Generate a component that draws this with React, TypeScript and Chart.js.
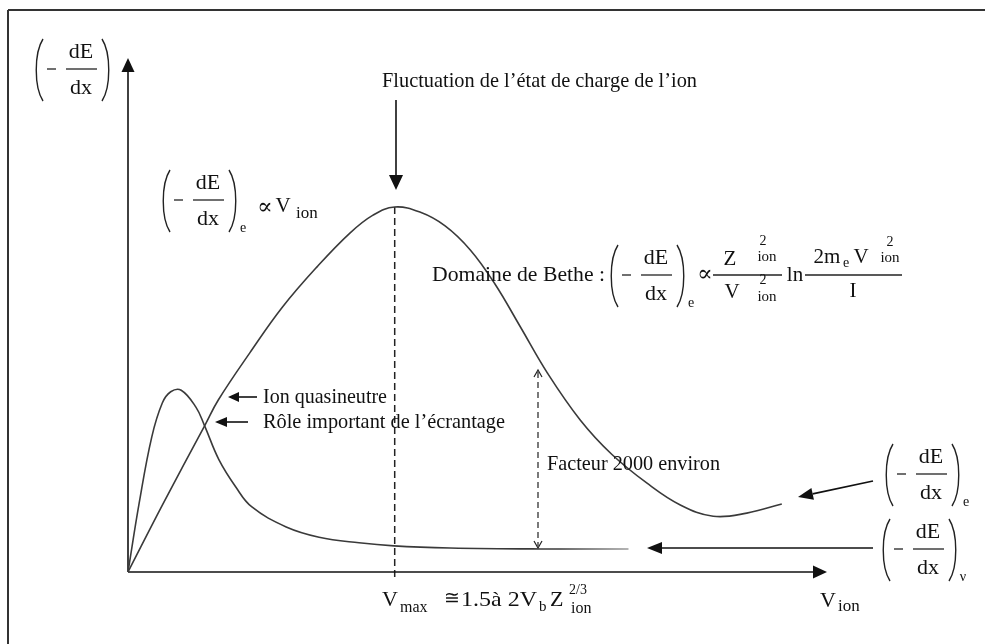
import React, { useEffect, useRef } from "react";
import { Chart, registerables } from "chart.js";

Chart.register(...registerables);

// Electronic stopping power (-dE/dx)_e versus ion velocity (arbitrary units)
const electronicV = [0, 0.5, 1.1, 1.29, 1.74, 2.21, 2.7, 3.17, 3.5, 3.81, 4.17, 4.53, 4.89, 5.24, 5.6, 5.99, 6.46, 6.91, 7.41, 7.89, 8.36, 8.84, 9.34];
const electronicLoss = [0, 13.3, 28.7, 33.6, 42.8, 51.8, 59.6, 66.2, 69.7, 71.3, 70.3, 67.6, 62.9, 56.3, 48.0, 38.9, 29.7, 23.0, 17.4, 13.1, 10.9, 11.5, 13.3];

// Nuclear stopping power (-dE/dx)_v versus ion velocity (arbitrary units)
const nuclearV = [0, 0.16, 0.34, 0.49, 0.61, 0.76, 0.97, 1.09, 1.3, 1.54, 1.77, 2.26, 2.73, 3.3, 3.8, 4.6, 5.9, 7.15];
const nuclearLoss = [0, 13.5, 26.4, 33.0, 35.2, 35.5, 32.2, 28.7, 21.9, 16.6, 12.7, 8.8, 6.8, 5.7, 5.1, 4.7, 4.5, 4.5];

const axisXMax = 10;
const axisYMax = 100;

const FONT = '"Liberation Serif", "DejaVu Serif", "Times New Roman", serif';
const INK = "#111";
const LINE = "#333";

function setFont(ctx: CanvasRenderingContext2D, size: number) {
  ctx.font = `${size}px ${FONT}`;
}

function text(ctx: CanvasRenderingContext2D, s: string, x: number, y: number, size: number, align: CanvasTextAlign = "left") {
  setFont(ctx, size);
  ctx.textAlign = align;
  ctx.textBaseline = "middle";
  ctx.fillStyle = INK;
  ctx.fillText(s, x, y);
}

function fitText(ctx: CanvasRenderingContext2D, s: string, x: number, y: number, size: number, w: number) {
  setFont(ctx, size);
  ctx.textAlign = "left";
  ctx.textBaseline = "middle";
  ctx.fillStyle = INK;
  const m = ctx.measureText(s).width;
  ctx.save();
  ctx.translate(x, y);
  ctx.scale(w / m, 1);
  ctx.fillText(s, 0, 0);
  ctx.restore();
}

function line(ctx: CanvasRenderingContext2D, x1: number, y1: number, x2: number, y2: number, w = 1.5, color = LINE) {
  ctx.beginPath();
  ctx.strokeStyle = color;
  ctx.lineWidth = w;
  ctx.moveTo(x1, y1);
  ctx.lineTo(x2, y2);
  ctx.stroke();
}

function arrow(ctx: CanvasRenderingContext2D, x1: number, y1: number, x2: number, y2: number, head = 13, half = 5.5) {
  const a = Math.atan2(y2 - y1, x2 - x1);
  const bx = x2 - head * Math.cos(a);
  const by = y2 - head * Math.sin(a);
  line(ctx, x1, y1, bx, by, 1.6, "#111");
  ctx.beginPath();
  ctx.fillStyle = "#111";
  ctx.moveTo(x2, y2);
  ctx.lineTo(bx + half * Math.sin(a), by - half * Math.cos(a));
  ctx.lineTo(bx - half * Math.sin(a), by + half * Math.cos(a));
  ctx.closePath();
  ctx.fill();
}

function openHead(ctx: CanvasRenderingContext2D, x: number, y: number, dir: number) {
  ctx.beginPath();
  ctx.strokeStyle = "#222";
  ctx.lineWidth = 1.2;
  ctx.setLineDash([]);
  ctx.moveTo(x - 4, y - dir * 7);
  ctx.lineTo(x, y);
  ctx.lineTo(x + 4, y - dir * 7);
  ctx.stroke();
}

function paren(ctx: CanvasRenderingContext2D, x: number, top: number, bot: number, left: boolean) {
  ctx.beginPath();
  ctx.strokeStyle = "#222";
  ctx.lineWidth = 1.4;
  if (left) {
    ctx.moveTo(x + 8, top);
    ctx.bezierCurveTo(x - 1, top + 14, x - 1, bot - 14, x + 8, bot);
  } else {
    ctx.moveTo(x, top);
    ctx.bezierCurveTo(x + 9, top + 14, x + 9, bot - 14, x, bot);
  }
  ctx.stroke();
}

// (-dE/dx)_sub ; L = left edge of the left parenthesis, B = fraction bar y
function frac(ctx: CanvasRenderingContext2D, L: number, B: number, sub: string) {
  paren(ctx, L, B - 30, B + 32, true);
  paren(ctx, L + 67, B - 30, B + 32, false);
  line(ctx, L + 12, B, L + 21, B, 1.3, "#222");
  line(ctx, L + 31, B, L + 62, B, 1.3, "#222");
  text(ctx, "dE", L + 46, B - 17, 22, "center");
  text(ctx, "dx", L + 46, B + 19, 22, "center");
  if (sub) text(ctx, sub, L + 81, B + 28, 14, "center");
}

const diagramPlugin = {
  id: "diagram",
  beforeDraw(chart: any) {
    const { ctx, width, height } = chart;
    ctx.save();
    ctx.fillStyle = "#fff";
    ctx.fillRect(0, 0, width, height);
    ctx.restore();
  },
  beforeDatasetsDraw(chart: any) {
    const ctx: CanvasRenderingContext2D = chart.ctx;
    const xs = chart.scales.x;
    const ys = chart.scales.y;
    const ox = xs.getPixelForValue(0);
    const oy = ys.getPixelForValue(0);
    ctx.save();
    // frame (top and left borders)
    line(ctx, 8, 10, 985, 10, 2, "#333");
    line(ctx, 8, 10, 8, 644, 2, "#333");
    // V_max dashed line
    let iMax = 0;
    electronicLoss.forEach((v, i) => { if (v > electronicLoss[iMax]) iMax = i; });
    const vx = xs.getPixelForValue(electronicV[iMax]);
    ctx.setLineDash([7, 4]);
    line(ctx, vx, ys.getPixelForValue(electronicLoss[iMax]), vx, oy + 8, 1.5, "#222");
    // Facteur 2000 dashed double arrow
    ctx.setLineDash([6, 4]);
    line(ctx, 538, 372, 538, 546, 1.2, "#222");
    ctx.setLineDash([]);
    openHead(ctx, 538, 370, -1);
    openHead(ctx, 538, 548, 1);
    // axes
    arrow(ctx, ox, oy, ox, ys.getPixelForValue(axisYMax) - 2, 14, 6.5);
    arrow(ctx, ox, oy, xs.getPixelForValue(axisXMax) - 1, oy, 14, 6.5);
    ctx.restore();
  },
  afterDatasetsDraw(chart: any) {
    const ctx: CanvasRenderingContext2D = chart.ctx;
    ctx.save();
    // y axis label
    frac(ctx, 35, 69, "");
    // title arrow
    fitText(ctx, "Fluctuation de l’état de charge de l’ion", 382, 81, 21, 315);
    arrow(ctx, 396, 100, 396, 190, 15, 7);
    // low-velocity law
    frac(ctx, 162, 200, "e");
    text(ctx, "∝", 265, 208, 23, "center");
    text(ctx, "V", 283, 206, 21, "center");
    text(ctx, "ion", 296, 214, 17);
    // Bethe domain
    fitText(ctx, "Domaine de Bethe :", 432, 275, 21, 173);
    frac(ctx, 610, 275, "e");
    text(ctx, "∝", 705, 275, 23, "center");
    line(ctx, 713, 275, 782, 275, 1.3, "#222");
    text(ctx, "Z", 730, 259, 21, "center");
    text(ctx, "2", 763, 241, 14, "center");
    text(ctx, "ion", 767, 257, 15, "center");
    text(ctx, "V", 732, 292, 21, "center");
    text(ctx, "2", 763, 280, 14, "center");
    text(ctx, "ion", 767, 297, 15, "center");
    text(ctx, "ln", 795, 275, 21, "center");
    line(ctx, 805, 275, 902, 275, 1.3, "#222");
    text(ctx, "2m", 827, 257, 21, "center");
    text(ctx, "e", 846, 263, 14, "center");
    text(ctx, "V", 861, 257, 21, "center");
    text(ctx, "2", 890, 242, 14, "center");
    text(ctx, "ion", 890, 258, 15, "center");
    text(ctx, "I", 853, 291, 21, "center");
    // crossing annotations
    arrow(ctx, 257, 397, 228, 397, 11, 5);
    fitText(ctx, "Ion quasineutre", 263, 397, 21, 124);
    arrow(ctx, 248, 422, 215, 422, 12, 5);
    fitText(ctx, "Rôle important de l’écrantage", 263, 422, 21, 242);
    // factor
    fitText(ctx, "Facteur 2000 environ", 547, 464, 21, 173);
    // right labels
    frac(ctx, 885, 474, "e");
    arrow(ctx, 873, 481, 798, 497, 15, 6);
    frac(ctx, 882, 549, "ν");
    arrow(ctx, 873, 548, 647, 548, 15, 6);
    // x axis labels
    text(ctx, "V", 828, 601, 22, "center");
    text(ctx, "ion", 838, 607, 17);
    text(ctx, "V", 390, 600, 22, "center");
    text(ctx, "max", 400, 608, 16);
    text(ctx, "≅", 452, 599, 19, "center");
    fitText(ctx, "1.5à 2V", 461, 600, 22, 76);
    text(ctx, "b", 539, 607, 15);
    text(ctx, "Z", 550, 600, 22);
    text(ctx, "2/3", 569, 590, 14);
    text(ctx, "ion", 571, 609, 16);
    ctx.restore();
  },
};

export default function App() {
  const ref = useRef<HTMLCanvasElement>(null);
  useEffect(() => {
    const canvas = ref.current!;
    const chart = new Chart(canvas, {
      type: "line",
      data: {
        datasets: [
          {
            label: "(-dE/dx)e",
            data: electronicV.map((v, i) => ({ x: v, y: electronicLoss[i] })),
            borderColor: "#3a3a3a",
            borderWidth: 1.6,
            pointRadius: 0,
            tension: 0.4,
            fill: false,
          },
          {
            label: "(-dE/dx)v",
            data: nuclearV.map((v, i) => ({ x: v, y: nuclearLoss[i] })),
            borderColor: (c: any) => {
              const area = c.chart.chartArea;
              if (!area) return "#3a3a3a";
              const g = c.chart.ctx.createLinearGradient(560, 0, 632, 0);
              g.addColorStop(0, "#3a3a3a");
              g.addColorStop(1, "#a0a0a0");
              return g;
            },
            borderWidth: 1.6,
            pointRadius: 0,
            tension: 0.4,
            fill: false,
          },
        ],
      },
      options: {
        animation: false,
        responsive: false,
        devicePixelRatio: 1,
        events: [],
        layout: { padding: { left: 128, right: 157, top: 60, bottom: 72 } },
        plugins: { legend: { display: false }, tooltip: { enabled: false }, title: { display: false } },
        scales: {
          x: { type: "linear", min: 0, max: axisXMax, display: false },
          y: { type: "linear", min: 0, max: axisYMax, display: false },
        },
      } as any,
      plugins: [diagramPlugin],
    });
    return () => chart.destroy();
  }, []);
  return (
    <canvas
      ref={ref}
      width={985}
      height={644}
      style={{ position: "absolute", left: 0, top: 0, display: "block" }}
    />
  );
}
